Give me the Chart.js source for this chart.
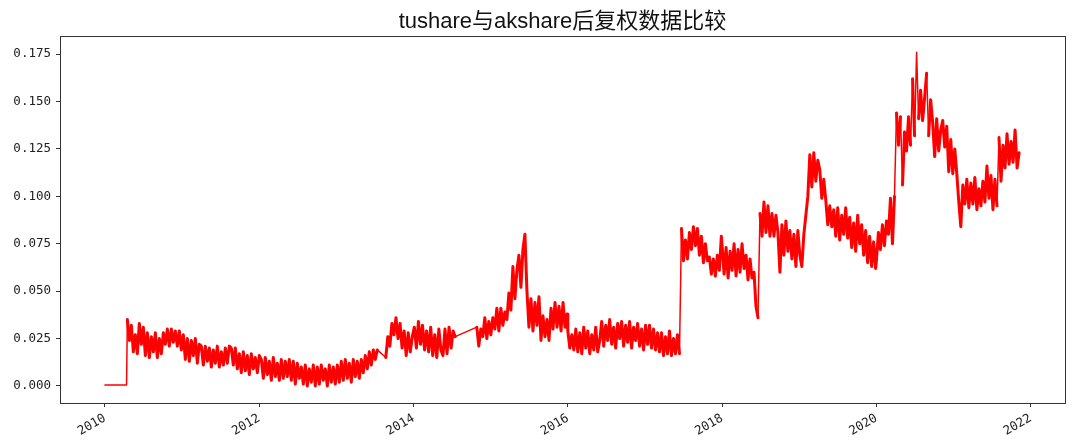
<!DOCTYPE html>
<html>
<head>
<meta charset="utf-8">
<script src="https://cdn.jsdelivr.net/npm/chart.js@4.4.1/dist/chart.umd.min.js"></script>
<style>
  html, body { margin: 0; padding: 0; background: #fff; }
  #wrap { width: 1080px; height: 444px; }
</style>
</head>
<body>
<div id="wrap"><canvas id="ratio-chart" width="1080" height="444"></canvas></div>
<script>
// tushare / akshare adjusted price difference
// each segment: start year, end year, values spread over it (trading days thinned)
const segStart = [2010.00, 2010.29, 2013.64, 2014.82, 2016.00, 2018.00, 2020.00];
const segEnd   = [2010.28, 2013.53, 2014.54, 2015.99, 2017.99, 2019.99, 2021.85];

const seg0 = [0.0005, 0.0005, 0.0005, 0.0005];

const seg1 = [
    0.035, 0.024, 0.032, 0.018, 0.027, 0.017, 0.033, 0.022, 0.031,
    0.016, 0.028, 0.015, 0.026, 0.018, 0.028, 0.015, 0.025, 0.017, 0.028,
    0.022, 0.030, 0.021, 0.030, 0.023, 0.029, 0.021, 0.029, 0.019,
    0.027, 0.014, 0.025, 0.013, 0.024, 0.016, 0.025, 0.012, 0.022,
    0.021, 0.011, 0.021, 0.013, 0.020, 0.010, 0.019, 0.012, 0.021, 0.010, 0.018, 0.011, 0.020, 0.012, 0.021,
    0.020, 0.011, 0.020, 0.009, 0.017, 0.007, 0.018, 0.008, 0.016, 0.006, 0.017, 0.009, 0.015, 0.007, 0.016,
    0.014, 0.004, 0.015, 0.006, 0.013, 0.003, 0.015, 0.005, 0.012, 0.003, 0.014, 0.004, 0.013, 0.005, 0.014,
    0.003, 0.013, 0.001, 0.012, 0.004,
    0.010, 0.001, 0.011, 0.000, 0.009, 0.002, 0.011, 0.000, 0.010, 0.001,
    0.011, 0.003, 0.009, 0.000, 0.011, 0.002, 0.010, 0.001, 0.011, 0.002,
    0.013, 0.003, 0.014, 0.004, 0.012, 0.002, 0.014, 0.005, 0.013, 0.004,
    0.014, 0.007, 0.016, 0.009, 0.018, 0.011,
    0.019, 0.014, 0.019
];

const seg2 = [
    0.015, 0.026, 0.021, 0.033, 0.027, 0.036, 0.025, 0.033, 0.020,
    0.029, 0.016, 0.028, 0.018, 0.026,
    0.031, 0.020, 0.034, 0.022, 0.032, 0.019, 0.029,
    0.018, 0.031, 0.016, 0.027, 0.015, 0.030, 0.019,
    0.016, 0.030, 0.017, 0.031, 0.020, 0.029, 0.026
];

const seg3 = [
    0.031, 0.021, 0.030,
    0.026, 0.036, 0.025, 0.034, 0.027, 0.036, 0.030,
    0.041, 0.029, 0.041, 0.032, 0.039,
    0.035, 0.049, 0.040,
    0.063, 0.046, 0.061,
    0.069, 0.052, 0.072, 0.080,
    0.050, 0.031,
    0.046, 0.029, 0.044, 0.032, 0.047,
    0.024, 0.037, 0.026, 0.035, 0.024,
    0.041, 0.030, 0.044, 0.031, 0.042, 0.029, 0.044, 0.031, 0.038
];

const seg4 = [
    0.029, 0.020, 0.027, 0.019,
    0.030, 0.018, 0.028, 0.017, 0.031, 0.020, 0.029, 0.017, 0.027, 0.019, 0.031, 0.018,
    0.024, 0.034, 0.021, 0.032, 0.024, 0.035, 0.022, 0.031, 0.020, 0.033, 0.025, 0.034, 0.021,
    0.032, 0.023, 0.034, 0.020, 0.031, 0.024, 0.033, 0.021, 0.030, 0.019, 0.032, 0.022,
    0.032, 0.020, 0.030, 0.019, 0.028,
    0.018, 0.028, 0.016, 0.026, 0.017, 0.029, 0.016, 0.025, 0.017, 0.027, 0.017,
    0.083, 0.066, 0.077, 0.067,
    0.081, 0.072, 0.084, 0.074, 0.083,
    0.069, 0.079, 0.065, 0.075, 0.066,
    0.068, 0.059, 0.067, 0.058, 0.069, 0.061, 0.079
];

const seg5 = [
    0.074, 0.059, 0.073, 0.057, 0.071, 0.061, 0.075, 0.058, 0.072, 0.060, 0.075, 0.062,
    0.069, 0.056, 0.067, 0.057, 0.060,
    0.042, 0.036, 0.091,
    0.079, 0.097, 0.081, 0.095, 0.079,
    0.091, 0.079, 0.090, 0.081, 0.060,
    0.085, 0.069, 0.087, 0.071,
    0.082, 0.067, 0.080, 0.063, 0.082, 0.069, 0.063,
    0.080, 0.090, 0.100,
    0.122, 0.105, 0.123, 0.108, 0.119,
    0.114, 0.099, 0.109,
    0.098, 0.085, 0.095, 0.084, 0.093,
    0.079, 0.094, 0.077, 0.090, 0.080, 0.094, 0.078,
    0.089, 0.073, 0.086, 0.071, 0.090, 0.075, 0.085,
    0.069, 0.082, 0.065, 0.079, 0.063, 0.076, 0.062
];

const seg6 = [
    0.066, 0.081, 0.072, 0.085, 0.074, 0.087, 0.080, 0.099,
    0.075, 0.100, 0.144, 0.127,
    0.142, 0.106, 0.134,
    0.124, 0.142, 0.127,
    0.162, 0.132, 0.176,
    0.141, 0.156, 0.140, 0.152,
    0.165, 0.132, 0.151,
    0.139, 0.121, 0.141, 0.124, 0.135,
    0.140, 0.126, 0.137,
    0.113, 0.130, 0.112, 0.125,
    0.112, 0.097, 0.084, 0.106, 0.096,
    0.109, 0.094, 0.107, 0.096, 0.110, 0.093, 0.104, 0.095, 0.108, 0.097,
    0.116, 0.099, 0.111,
    0.093, 0.109, 0.095,
    0.131, 0.108, 0.127,
    0.115, 0.133, 0.117, 0.129,
    0.118, 0.135, 0.115, 0.123
];

const segValues = [seg0, seg1, seg2, seg3, seg4, seg5, seg6];

const xTickYears = [2010, 2012, 2014, 2016, 2018, 2020, 2022];
const yTickValues = [0, 0.025, 0.05, 0.075, 0.1, 0.125, 0.15, 0.175];

const chartTitle = "tushare与akshare后复权数据比较";


function buildPoints() {
    let points = [];
    segValues.forEach((vals, s) => {
        let step = (segEnd[s] - segStart[s]) / (vals.length - 1);
        vals.forEach((v, i) => {
            points.push({ x: segStart[s] + i * step, y: v });
        });
    });
    return points;
}

// dense daily noise reads as a solid band, long straight runs (gaps, jumps) stay thin
function segWidth(c) {
    let dx = Math.abs(c.p1.parsed.x - c.p0.parsed.x);
    let dy = Math.abs(c.p1.parsed.y - c.p0.parsed.y);
    if (dx > 0.05 || dy > 0.03) return 1.5;
    return 3;
}

// matplotlib-like box round the plot area
const frameBox = {
    id: "frameBox",
    afterDraw(chart) {
        let a = chart.chartArea;
        let ctx = chart.ctx;
        ctx.save();
        ctx.strokeStyle = "#333";
        ctx.lineWidth = 1;
        ctx.strokeRect(Math.round(a.left) + 0.5, Math.round(a.top) + 0.5,
            Math.round(a.right - a.left), Math.round(a.bottom - a.top));
        ctx.restore();
    }
};

let tickFont = { family: "'DejaVu Sans Mono', monospace", size: 12.5 };

let chartOptions = {
    responsive: false,
    animation: false,
    layout: { padding: { left: 0, right: 15, top: 0, bottom: 0 } },
    plugins: {
        legend: { display: false },
        tooltip: { enabled: false },
        title: {
            display: true,
            text: chartTitle,
            fullSize: false,
            color: "#111",
            font: { family: "'Liberation Sans', 'Noto Sans CJK SC', sans-serif", size: 22, weight: "normal", lineHeight: 1.1 },
            padding: { top: 10, bottom: 2 }
        }
    },
    elements: {
        point: { radius: 0 },
        line: { tension: 0 }
    },
    scales: {
        x: {
            type: "linear",
            min: 2009.417,
            max: 2022.445,
            afterBuildTicks: s => { s.ticks = xTickYears.map(v => ({ value: v })); },
            afterFit: s => { s.height = 41; },
            grid: { drawOnChartArea: false, drawTicks: true, tickLength: 4, color: "#333" },
            border: { display: false },
            ticks: {
                minRotation: 30,
                maxRotation: 30,
                padding: 4,
                color: "#222",
                font: tickFont,
                callback: v => String(v)
            }
        },
        y: {
            type: "linear",
            min: -0.009,
            max: 0.1845,
            afterBuildTicks: s => { s.ticks = yTickValues.map(v => ({ value: v })); },
            afterFit: s => { s.width = 60; },
            grid: { drawOnChartArea: false, drawTicks: true, tickLength: 4, color: "#333" },
            border: { display: false },
            ticks: {
                padding: 5,
                color: "#222",
                font: tickFont,
                callback: v => v.toFixed(3)
            }
        }
    }
};

let ctx = document.getElementById("ratio-chart").getContext("2d");
let ratioChart = new Chart(ctx, {
    type: "line",
    data: {
        datasets: [{
            label: "diff",
            data: buildPoints(),
            borderColor: "rgb(255, 0, 0)",
            borderWidth: 3,
            borderJoinStyle: "round",
            borderCapStyle: "round",
            segment: { borderWidth: segWidth },
            fill: false
        }]
    },
    options: chartOptions,
    plugins: [frameBox]
});
</script>
</body>
</html>
